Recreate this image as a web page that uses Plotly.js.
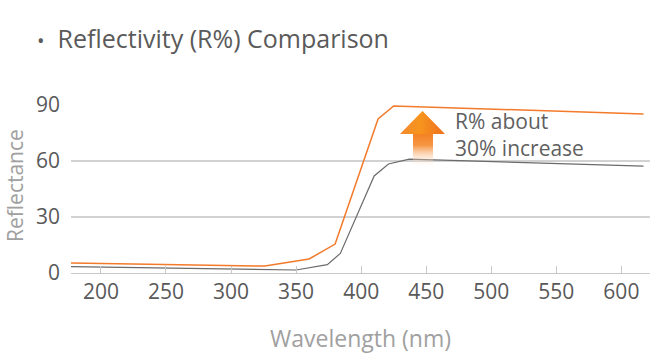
<!DOCTYPE html>
<html>
<head>
<meta charset="utf-8">
<script src="https://cdn.plot.ly/plotly-3.0.1.min.js"></script>
<style>html,body{margin:0;padding:0;background:#fff;}#chart{width:650px;height:354px;}</style>
</head>
<body>
<div id="chart"></div>
<script>
// Data
var wavelengthNew = [177, 326, 360, 380, 413, 425, 617];
var reflectNew    = [5.4, 3.7, 7.5, 15.5, 82.5, 89.5, 85.2];
var wavelengthOld = [177, 350, 374, 384, 410, 421, 437, 617];
var reflectOld    = [3.4, 1.6, 4.5, 10.5, 52, 58.4, 61, 57.3];
var xTicks = [200, 250, 300, 350, 400, 450, 500, 550, 600];
var yTicks = [0, 30, 60, 90];
var titleText = "Reflectivity (R%) Comparison";
var yTitleText = "Reflectance";
var noteLines = ["R% about", "30% increase"];

var FONT = "Open Sans, Noto Sans, sans-serif";

var arrowSvg = "<svg xmlns='http://www.w3.org/2000/svg' width='45' height='57' viewBox='0 0 45 57'>" +
  "<defs>" +
  "<linearGradient id='h' x1='0' y1='0' x2='1' y2='0'>" +
  "<stop offset='0' stop-color='#f28a2e'/><stop offset='0.45' stop-color='#f7941d'/><stop offset='1' stop-color='#ee6f1f'/>" +
  "</linearGradient>" +
  "<linearGradient id='v' x1='0' y1='0' x2='0' y2='1'>" +
  "<stop offset='0' stop-color='#f37f22' stop-opacity='1'/><stop offset='0.35' stop-color='#f58a2e' stop-opacity='0.9'/><stop offset='1' stop-color='#ffffff' stop-opacity='0'/>" +
  "</linearGradient>" +
  "</defs>" +
  "<rect x='13' y='22' width='20' height='35' fill='url(#v)'/>" +
  "<polygon points='0,23 22.5,0 45,23' fill='url(#h)'/>" +
  "</svg>";
var arrowSrc = "data:image/svg+xml;charset=utf-8," + encodeURIComponent(arrowSvg);

var traces = [
  {
    x: wavelengthOld, y: reflectOld, type: "scatter", mode: "lines",
    line: {color: "#6b6b6b", width: 1.2}, hoverinfo: "x+y", showlegend: false
  },
  {
    x: wavelengthNew, y: reflectNew, type: "scatter", mode: "lines",
    line: {color: "#f27a2a", width: 1.5}, hoverinfo: "x+y", showlegend: false
  }
];

var layout = {
  width: 650, height: 354,
  margin: {l: 71, r: 0, t: 105, b: 81, pad: 0},
  paper_bgcolor: "#ffffff", plot_bgcolor: "#ffffff",
  font: {family: FONT, color: "#595959"},
  showlegend: false,
  title: {
    text: "<span style='font-size:20px'>•</span>  " + titleText,
    font: {family: FONT, size: 25, color: "#5a5a5a"},
    xref: "container", yref: "container",
    x: 37 / 650, xanchor: "left",
    y: 1 - 39 / 354, yanchor: "middle"
  },
  xaxis: {
    range: [177, 622],
    tickvals: xTicks, ticktext: xTicks.map(String),
    ticks: "inside", ticklen: 7, tickcolor: "#c8c8c8", tickwidth: 1,
    showgrid: false, zeroline: false,
    showline: true, linecolor: "#c8c8c8", linewidth: 1.2,
    tickfont: {family: FONT, size: 21, color: "#595959"},
    title: {text: "Wavelength (nm)", font: {family: FONT, size: 23, color: "#a0a0a0"}, standoff: 28},
    fixedrange: true
  },
  yaxis: {
    range: [0, 90],
    tickvals: yTicks, ticktext: yTicks.map(String),
    ticks: "", showgrid: true, gridcolor: "#d2d2d2", gridwidth: 1.2,
    zeroline: false, showline: false,
    tickfont: {family: FONT, size: 21, color: "#595959"},
    ticklabelstandoff: 10,
    fixedrange: true
  },
  images: [{
    source: arrowSrc, xref: "paper", yref: "paper",
    x: (400 - 71) / 579, y: (273 - 111) / 168,
    sizex: 45 / 579, sizey: 57 / 168,
    xanchor: "left", yanchor: "top", sizing: "stretch", layer: "above"
  }],
  annotations: [
    {text: yTitleText, xref: "paper", yref: "paper", x: (15 - 71) / 579, y: (273 - 186) / 168,
     xanchor: "center", yanchor: "middle", textangle: -90, showarrow: false,
     font: {family: FONT, size: 21, color: "#a0a0a0"}},
    {text: noteLines.join("<br>"), xref: "paper", yref: "paper", x: (454 - 71) / 579, y: (273 - 106) / 168,
     xanchor: "left", yanchor: "top", align: "left", borderpad: 0,
     showarrow: false, font: {family: FONT, size: 21, color: "#5f5f5f"}}
  ]
};

Plotly.newPlot("chart", traces, layout, {displayModeBar: false, staticPlot: true});
</script>
</body>
</html>
